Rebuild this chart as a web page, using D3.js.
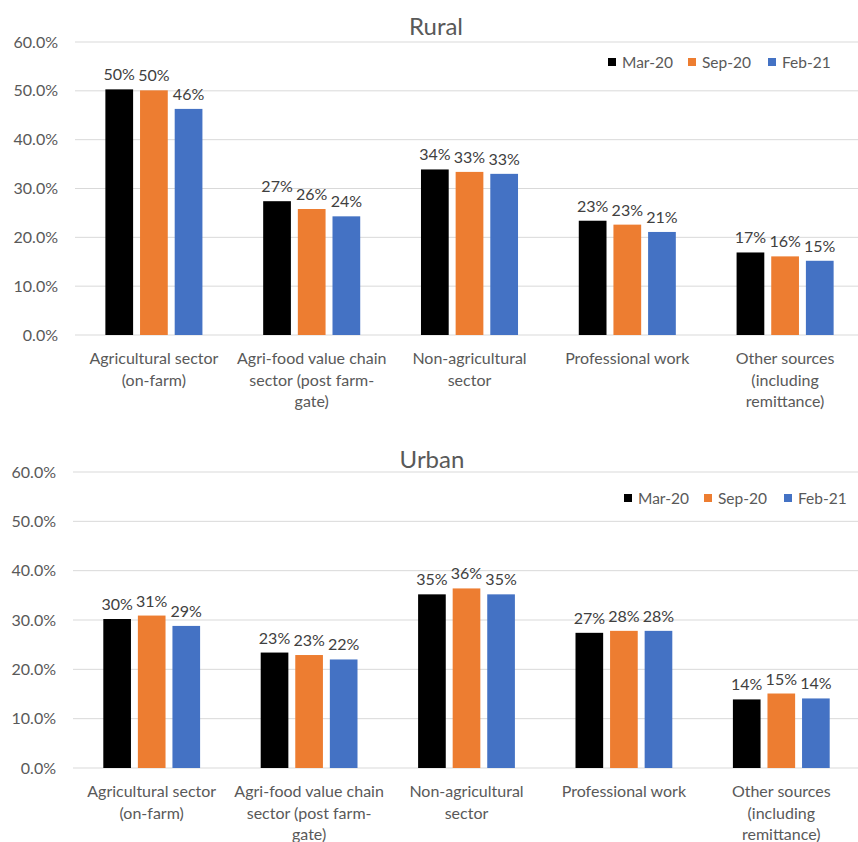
<!DOCTYPE html>
<html>
<head>
<meta charset="utf-8">
<script src="https://cdn.jsdelivr.net/npm/d3@7"></script>
<style>
  body { margin: 0; background: #fff; }
  svg { display: block; font-family: Lato, "Open Sans", sans-serif; }
</style>
</head>
<body>
<div class="chart"></div>
<script>
// categories, each split on the lines the original wraps on
const categories = [
    ["Agricultural sector", "(on-farm)"],
    ["Agri-food value chain", "sector (post farm-", "gate)"],
    ["Non-agricultural", "sector"],
    ["Professional work"],
    ["Other sources", "(including", "remittance)"]
]
const seriesNames = ["Mar-20", "Sep-20", "Feb-21"]
const colors = ["#000000", "#ED7D31", "#4472C4"]
const yTicks = [0, 0.1, 0.2, 0.3, 0.4, 0.5, 0.6]

const ruralMar20 = [0.503, 0.274, 0.339, 0.234, 0.169]
const ruralSep20 = [0.501, 0.258, 0.334, 0.226, 0.161]
const ruralFeb21 = [0.463, 0.243, 0.330, 0.211, 0.152]

const urbanMar20 = [0.302, 0.234, 0.352, 0.274, 0.139]
const urbanSep20 = [0.309, 0.229, 0.364, 0.278, 0.151]
const urbanFeb21 = [0.288, 0.220, 0.352, 0.278, 0.141]

let outerWidth = 858
let outerHeight = 842

const svg = d3.select(".chart")
    .append("svg")
    .attr("width", outerWidth)
    .attr("height", outerHeight)

function drawPanel(opts) {
    let margin = {top: opts.top, left: opts.left}
    let w = opts.width
    let h = opts.height
    let values = [opts.s1, opts.s2, opts.s3]

    const g = svg.append("g")
        .attr("transform", `translate(${margin.left}, ${margin.top})`)

    const x0 = d3.scaleBand()
        .domain(d3.range(categories.length))
        .range([0, w])
        .paddingInner(0.385)
        .paddingOuter(0.1925)

    const x1 = d3.scaleBand()
        .domain(d3.range(seriesNames.length))
        .range([0, x0.bandwidth()])
        .paddingInner(0.2)

    const yScale = d3.scaleLinear()
        .domain([0, 0.6])
        .range([h, 0])

    // gridlines
    g.append("g")
        .selectAll("line")
        .data(yTicks)
        .join("line")
        .attr("x1", 0)
        .attr("x2", w)
        .attr("y1", d => yScale(d))
        .attr("y2", d => yScale(d))
        .attr("stroke", "#d9d9d9")
        .attr("stroke-width", 1)

    const yAxis = d3.axisLeft(yScale)
        .tickValues(yTicks)
        .tickFormat(d3.format(".1%"))
        .tickSize(0)
        .tickPadding(17)

    g.append("g")
        .attr("class", "axis y-axis")
        .call(yAxis)
        .call(a => a.select(".domain").remove())
        .selectAll("text")
        .attr("font-size", 16)
        .attr("font-family", "Lato, sans-serif")
        .attr("fill", "#595959")

    const groups = g.selectAll(".grp")
        .data(categories)
        .join("g")
        .attr("class", "grp")
        .attr("transform", (d, i) => `translate(${x0(i)}, 0)`)

    groups.selectAll("rect")
        .data((d, i) => values.map((s, k) => ({k: k, v: s[i]})))
        .join("rect")
        .attr("x", d => x1(d.k))
        .attr("y", d => yScale(d.v))
        .attr("width", x1.bandwidth())
        .attr("height", d => h - yScale(d.v))
        .attr("fill", d => colors[d.k])

    groups.selectAll(".val")
        .data((d, i) => values.map((s, k) => ({k: k, v: s[i]})))
        .join("text")
        .attr("class", "val")
        .attr("x", d => x1(d.k) + x1.bandwidth() / 2)
        .attr("y", d => yScale(d.v) - 9)
        .attr("text-anchor", "middle")
        .attr("font-size", 16)
        .attr("fill", "#404040")
        .text(d => d3.format(".0%")(d.v))

    // category labels
    groups.selectAll(".cat")
        .data(d => d)
        .join("text")
        .attr("class", "cat")
        .attr("x", x0.bandwidth() / 2)
        .attr("y", (d, j) => h + 29 + j * 21.5)
        .attr("text-anchor", "middle")
        .attr("font-size", 16)
        .attr("fill", "#595959")
        .text(d => d)

    svg.append("text")
        .attr("x", opts.titleX)
        .attr("y", opts.titleY)
        .attr("text-anchor", "middle")
        .attr("font-size", 24)
        .attr("fill", "#595959")
        .text(opts.title)

    // legend
    const legend = svg.append("g")
        .attr("transform", `translate(${opts.legendX}, ${opts.legendY})`)
    const item = legend.selectAll("g")
        .data(seriesNames)
        .join("g")
        .attr("transform", (d, i) => `translate(${i * 80}, 0)`)
    item.append("rect")
        .attr("x", 0)
        .attr("y", -4)
        .attr("width", 8)
        .attr("height", 8)
        .attr("fill", (d, i) => colors[i])
    item.append("text")
        .attr("x", 14)
        .attr("y", 5.5)
        .attr("font-size", 15.5)
        .attr("fill", "#595959")
        .text(d => d)
}

drawPanel({
    title: "Rural", titleX: 436, titleY: 35,
    legendX: 608, legendY: 62,
    top: 42, left: 75, width: 789, height: 293,
    s1: ruralMar20, s2: ruralSep20, s3: ruralFeb21
})

drawPanel({
    title: "Urban", titleX: 432, titleY: 468,
    legendX: 624, legendY: 498,
    top: 472, left: 73, width: 787, height: 296,
    s1: urbanMar20, s2: urbanSep20, s3: urbanFeb21
})
</script>
</body>
</html>
